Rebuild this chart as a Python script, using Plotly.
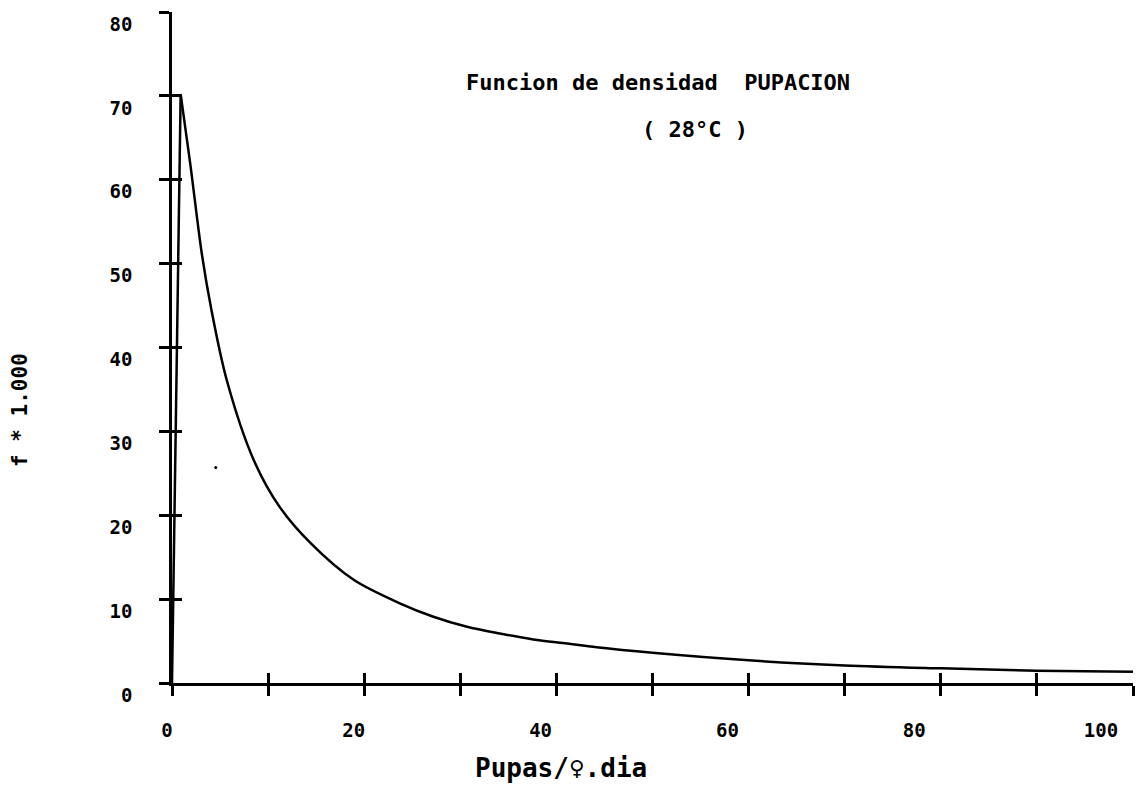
import plotly.graph_objects as go

# --- data ---
rise_x = [0.0, 0.9]
rise_y = [0.0, 70.2]

curve_x = [0.9, 1.9, 3.1, 4.1, 5.7, 8.5, 11.2, 14.4, 18.9, 23.7, 27.2, 30.7,
           34.1, 37.6, 41.1, 44.2, 50, 60, 70, 80, 90, 100]
curve_y = [70.2, 61.9, 51.2, 44.5, 36.1, 26.6, 21.0, 16.7, 12.3, 9.5, 7.9, 6.7,
           5.9, 5.2, 4.7, 4.25, 3.6, 2.7, 2.1, 1.75, 1.47, 1.35]

stray_x = [4.55]
stray_y = [25.7]

x_ticks = [0, 10, 20, 30, 40, 50, 60, 70, 80, 90, 100]
x_labels = [0, 20, 40, 60, 80, 100]
y_ticks = [0, 10, 20, 30, 40, 50, 60, 70, 80]

title_line1 = "Funcion de densidad  PUPACION"
title_line2 = "( 28°C )"
x_title = "Pupas/♀.dia"
y_title = "f * 1.000"

FONT = "DejaVu Sans Mono"
INK = "#000000"

# page geometry (reference pixel coordinates)
PL, PR, PT, PB = 160, 1133, 12, 683   # paper box
AX0 = 172                             # x position of the y axis
PW, PH = PR - PL, PB - PT


def px(x):
    return (x - PL) / PW


def py(y):
    return (PB - y) / PH


fig = go.Figure()
fig.add_trace(go.Scatter(x=rise_x, y=rise_y, mode="lines",
                         line=dict(color=INK, width=2.5), showlegend=False))
fig.add_trace(go.Scatter(x=curve_x, y=curve_y, mode="lines",
                         line=dict(color=INK, width=2.5, shape="spline", smoothing=0.9),
                         showlegend=False))
fig.add_trace(go.Scatter(x=stray_x, y=stray_y, mode="markers",
                         marker=dict(color=INK, size=3), showlegend=False))
fig.add_trace(go.Scatter(x=[None], y=[None], xaxis="x2", yaxis="y2", showlegend=False))
fig.add_trace(go.Scatter(x=[None], y=[None], xaxis="x3", yaxis="y3", showlegend=False))

tickfont = dict(family=FONT, size=19, color=INK, weight="bold")
dom = [px(AX0), 1]

fig.update_layout(
    width=1139, height=787,
    margin=dict(l=PL - 8, r=1139 - (PR - 8), t=PT - 8, b=787 - (PB - 8)),
    paper_bgcolor="white", plot_bgcolor="rgba(0,0,0,0)",
    xaxis=dict(domain=dom, range=[0, 100], tickvals=x_ticks, showticklabels=False,
               ticks="outside", ticklen=10, tickwidth=2.5, tickcolor=INK,
               showline=True, linecolor=INK, linewidth=2.5, showgrid=False,
               zeroline=False, anchor="y"),
    xaxis2=dict(domain=dom, range=[0, 100], tickvals=x_ticks, showticklabels=False,
                ticks="inside", ticklen=10, tickwidth=2.5, tickcolor=INK,
                overlaying="x", anchor="y", showgrid=False, zeroline=False),
    xaxis3=dict(domain=[0, 1], range=[(PL - 167) / 9.34, (PR - 167) / 9.34],
                tickvals=x_labels, ticktext=[str(v) for v in x_labels],
                ticks="", showline=False, showgrid=False, zeroline=False,
                anchor="y3", side="bottom",
                tickfont=tickfont, ticklabelstandoff=34),
    yaxis=dict(domain=[0, 1], range=[0, 80], tickvals=y_ticks, ticks="outside",
               ticklen=10, tickwidth=2.5, tickcolor=INK, showline=True,
               linecolor=INK, linewidth=2.5, showgrid=False, zeroline=False,
               tickfont=tickfont, ticklabelstandoff=23, ticklabelshift=12,
               anchor="x"),
    yaxis2=dict(range=[0, 80], tickvals=y_ticks, ticks="inside", ticklen=10,
                tickwidth=2.5, tickcolor=INK, showticklabels=False,
                overlaying="y", anchor="x", showgrid=False, zeroline=False),
    yaxis3=dict(domain=[0, 1], range=[0, 1], anchor="x3", showticklabels=False,
                ticks="", showline=False, showgrid=False, zeroline=False),
    annotations=[
        dict(text="<b>" + title_line1 + "</b>", x=px(658), y=py(83),
             xref="paper", yref="paper", xanchor="center", yanchor="middle",
             showarrow=False, font=dict(family=FONT, size=22, color=INK)),
        dict(text="<b>" + title_line2 + "</b>", x=px(695), y=py(130),
             xref="paper", yref="paper", xanchor="center", yanchor="middle",
             showarrow=False, font=dict(family=FONT, size=22, color=INK)),
        dict(text="<b>" + x_title + "</b>", x=px(561), y=py(768),
             xref="paper", yref="paper", xanchor="center", yanchor="middle",
             showarrow=False, font=dict(family=FONT, size=26, color=INK)),
        dict(text="<b>" + y_title + "</b>", x=px(20), y=py(410),
             xref="paper", yref="paper", xanchor="center", yanchor="middle",
             showarrow=False, textangle=-90,
             font=dict(family=FONT, size=21, color=INK)),
    ],
)

fig.write_html("out.html")
